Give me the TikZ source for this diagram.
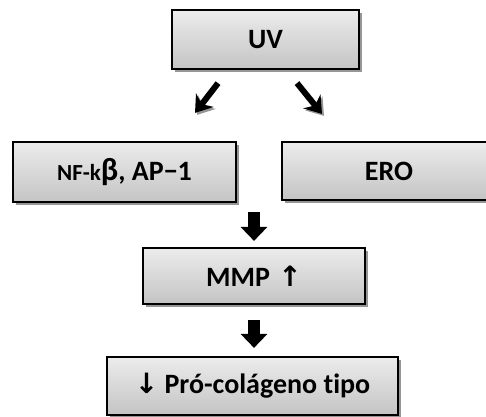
\documentclass[tikz,border=0pt]{standalone}
\usepackage{fontspec}
\setmainfont{Carlito}[Ligatures=NoCommon]
\newfontfamily\arrowfont{DejaVu Sans}
\usetikzlibrary{arrows.meta,shadows}
\definecolor{boxtop}{RGB}{236,236,236}
\definecolor{boxbottom}{RGB}{196,196,196}
\definecolor{shadowgray}{RGB}{150,150,150}

\begin{document}
\begin{tikzpicture}[x=1pt, y=-1pt,
    stepbox/.style={rectangle, draw=black, line width=2.2pt, top color=boxtop, bottom color=boxbottom, inner sep=0pt, font=\fontsize{28}{32}\selectfont\bfseries, drop shadow={shadow xshift=2.5pt, shadow yshift=-3pt, fill=shadowgray, opacity=1}},
    diagarrow/.style={line width=6pt, -{Stealth[length=16pt, width=22pt, inset=5pt]}, preaction={draw=shadowgray, transform canvas={shift={(2pt,-2pt)}}}},
    downarrow/.style={line width=12pt, -{Triangle[length=14pt, width=26pt]}}
]
\useasboundingbox (0,0) rectangle (486,416);

% Boxes
\node[stepbox, minimum width=187pt, minimum height=59pt] (uv) at (265.5, 39.5) {UV};
\node[stepbox, minimum width=223pt, minimum height=60pt] (nfk) at (124.5, 172) {{\fontsize{23}{26}\selectfont NF-k}{\fontsize{32}{32}\selectfont β}, AP−1};
\node[stepbox, minimum width=214pt, minimum height=58pt] (ero) at (389, 171) {ERO};
\node[stepbox, minimum width=222pt, minimum height=56pt] (mmp) at (254, 276) {MMP\hspace{0.3em}{\arrowfont ↑}};
\node[stepbox, minimum width=291pt, minimum height=58pt] (pro) at (252.5, 386) {{\arrowfont ↓} Pró-colágeno tipo};

% Arrows
\draw[diagarrow] ([xshift=-47.5pt, yshift=-13pt]uv.south) -- ([xshift=70.5pt, yshift=28pt]nfk.north);
\draw[diagarrow] ([xshift=31.5pt, yshift=-13pt]uv.south) -- ([xshift=-67pt, yshift=27pt]ero.north);
\draw[downarrow, shorten <=9pt, shorten >=6pt] (mmp.north |- nfk.south) -- (mmp.north);
\draw[downarrow, shorten <=15pt, shorten >=8pt] (mmp.south) -- (mmp.south |- pro.north);

\end{tikzpicture}
\end{document}
